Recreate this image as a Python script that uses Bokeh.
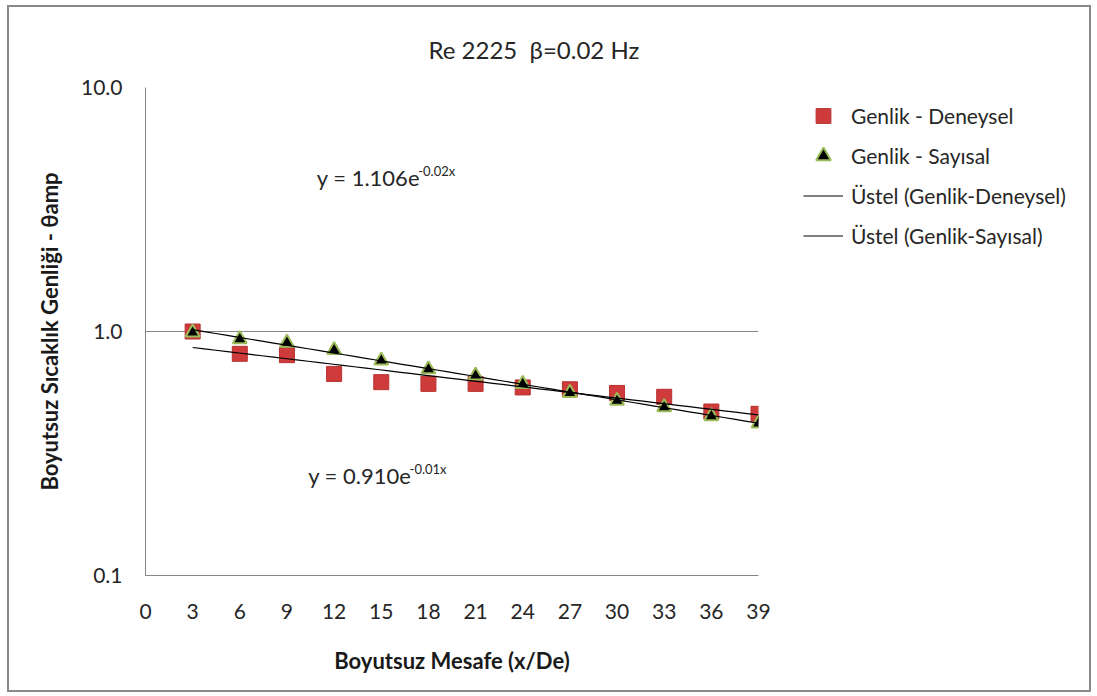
import numpy as np
from bokeh.plotting import figure
from bokeh.layouts import row
from bokeh.models import (FixedTicker, PrintfTickFormatter, Label, Legend, LegendItem,
                          ColumnDataSource)
from bokeh.embed import file_html
from bokeh.resources import INLINE

# ---- data ----
x_vals = [3, 6, 9, 12, 15, 18, 21, 24, 27, 30, 33, 36, 39]
genlik_deneysel = [1.00, 0.81, 0.80, 0.67, 0.62, 0.61, 0.61, 0.59, 0.58, 0.56, 0.54, 0.47, 0.46]
genlik_sayisal = [0.99, 0.93, 0.90, 0.84, 0.76, 0.70, 0.66, 0.61, 0.56, 0.52, 0.49, 0.45, 0.42]
x_ticks = [0, 3, 6, 9, 12, 15, 18, 21, 24, 27, 30, 33, 36, 39]
y_ticks = [0.1, 1.0, 10.0]
eq_deneysel = ("y = 0.910e", "-0.01x")
eq_sayisal = ("y = 1.106e", "-0.02x")
legend_labels = ["Genlik - Deneysel", "Genlik - Say\u0131sal",
                 "\u00dcstel (Genlik-Deneysel)", "\u00dcstel (Genlik-Say\u0131sal)"]

FONT = "Lato"
TXT = "#262626"
GRAY = "#868686"
RED = "#CF3A3A"
RED_EDGE = "#B83232"
GREEN = "#9BBB59"

# content box inside a 2px border placed at (7,5); content origin at (9,7)
H = 683
BL, BT, BB, BR = 136, 80, H - 80 - 488, 20
p = figure(width=BL + 613 + BR, height=H, x_range=(0, 39), y_range=(0.1, 10),
           y_axis_type="log", output_backend="svg", toolbar_location=None,
           min_border_left=BL, min_border_right=BR, min_border_top=BT,
           min_border_bottom=BB)
p.outline_line_color = None
p.background_fill_color = "white"
p.border_fill_color = "white"

# title
p.title.text = "Re 2225\u00a0\u00a0\u03b2=0.02 Hz"
p.title.text_font = FONT
p.title.text_font_size = "24px"
p.title.text_font_style = "normal"
p.title.text_color = TXT
p.title.align = "left"
p.title.offset = 283
p.title.standoff = 48

# axes
for ax in (p.xaxis[0], p.yaxis[0]):
    ax.axis_line_color = GRAY
    ax.axis_line_width = 1
    ax.major_tick_line_color = None
    ax.minor_tick_line_color = None
    ax.major_label_text_font = FONT
    ax.major_label_text_font_size = "21px"
    ax.major_label_text_color = TXT
    ax.axis_label_text_font = FONT
    ax.axis_label_text_font_size = "22px"
    ax.axis_label_text_font_style = "bold"
    ax.axis_label_text_color = "#1a1a1a"

p.xaxis.ticker = FixedTicker(ticks=x_ticks)
p.yaxis.ticker = FixedTicker(ticks=y_ticks)
p.yaxis.formatter = PrintfTickFormatter(format="%.1f")
p.xaxis.major_label_standoff = 22
p.yaxis.major_label_standoff = 17
p.xaxis.axis_label = "Boyutsuz Mesafe (x/De)"
p.yaxis.axis_label = "Boyutsuz S\u0131cakl\u0131k Genli\u011fi - \u03b8amp"
p.xaxis.axis_label_standoff = 25
p.yaxis.axis_label_standoff = 15

p.xgrid.grid_line_color = None
p.ygrid.ticker = FixedTicker(ticks=y_ticks)
p.ygrid.grid_line_color = GRAY
p.ygrid.grid_line_width = 1

# exponential trend lines fitted from the data
xa = np.array(x_vals, dtype=float)
xf = np.linspace(min(x_vals), max(x_vals), 50)
bd, ad = np.polyfit(xa, np.log(genlik_deneysel), 1)
bs, as_ = np.polyfit(xa, np.log(genlik_sayisal), 1)

src = ColumnDataSource(dict(x=x_vals, d=genlik_deneysel, s=genlik_sayisal))
p.scatter("x", "d", source=src, marker="square", size=15,
          fill_color=RED, line_color=RED_EDGE, line_width=1)
p.scatter("x", "s", source=src, marker="triangle", size=14,
          fill_color="black", line_color=GREEN, line_width=2)
p.line(xf, np.exp(ad + bd * xf), line_color="black", line_width=1.2)
p.line(xf, np.exp(as_ + bs * xf), line_color="black", line_width=1.2)

# equation labels
p.add_layout(Label(x=10.9, y=4.28, text=eq_sayisal[0], text_font=FONT,
                   text_font_size="22px", text_color=TXT, text_baseline="middle"))
p.add_layout(Label(x=17.35, y=4.55, text=eq_sayisal[1], text_font=FONT,
                   text_font_size="13px", text_color=TXT, text_baseline="middle"))
p.add_layout(Label(x=10.35, y=0.256, text=eq_deneysel[0], text_font=FONT,
                   text_font_size="22px", text_color=TXT, text_baseline="middle"))
p.add_layout(Label(x=16.8, y=0.272, text=eq_deneysel[1], text_font=FONT,
                   text_font_size="13px", text_color=TXT, text_baseline="middle"))

# ---- legend panel (separate figure to the right; its frame is row-aligned) ----
LW = 1080 - (BL + 613 + BR)
lf = figure(width=LW, height=H, x_range=(0, 1), y_range=(0, 1),
            output_backend="svg", toolbar_location=None,
            x_axis_location=None, y_axis_location=None,
            min_border=0)
lf.outline_line_color = None
lf.grid.visible = False
lf.border_fill_color = "white"
lf.background_fill_color = "white"
blank = ColumnDataSource(dict(x=[np.nan], y=[np.nan]))
g1 = lf.scatter("x", "y", source=blank, marker="square", size=15,
                fill_color=RED, line_color=RED_EDGE, line_width=1)
g2 = lf.scatter("x", "y", source=blank, marker="triangle", size=14,
                fill_color="black", line_color=GREEN, line_width=2)
g3 = lf.line("x", "y", source=blank, line_color="black", line_width=1.2)
g4 = lf.line("x", "y", source=blank, line_color="black", line_width=1.2)

leg_h = 4 * 37 + 3 * 3
lf_x0 = 9 + BL + 613 + BR          # page x of the legend figure
legend = Legend(items=[LegendItem(label=t, renderers=[r])
                       for t, r in zip(legend_labels, [g1, g2, g3, g4])],
                location=(803 - lf_x0, 575 - 96.5 - leg_h))
legend.border_line_color = None
legend.background_fill_alpha = 0
legend.padding = 0
legend.margin = 0
legend.spacing = 3
legend.glyph_width = 40
legend.glyph_height = 37
legend.label_standoff = 8
legend.label_text_font = FONT
legend.label_text_font_size = "21px"
legend.label_text_color = TXT
lf.add_layout(legend, "center")

root = row(p, lf, margin=(5, 0, 0, 7), spacing=0,
           styles={"border": "2px solid #8a8a8a"})

open("out.html", "w").write(file_html(root, INLINE))
